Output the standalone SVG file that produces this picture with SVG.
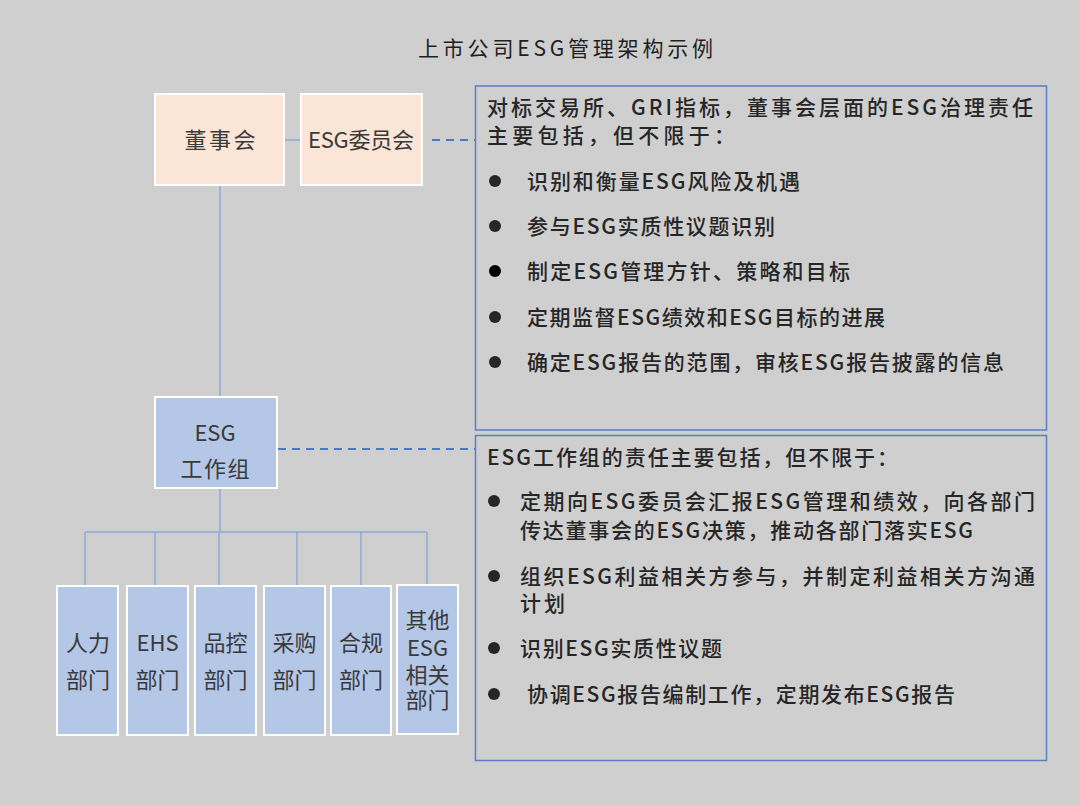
<svg xmlns="http://www.w3.org/2000/svg" width="1080" height="805" viewBox="0 0 1080 805">
<style>
.t{font-family:"Noto Sans CJK SC","Liberation Sans",sans-serif;}
.node{stroke:#ffffff;stroke-width:2;}
.peach{fill:#fbe5d6;}
.blue{fill:#b4c7e7;}
.nt{font-size:22px;fill:#3a3a3a;text-anchor:middle;}
.bt{font-size:21px;fill:#262626;font-weight:500;}
.panel{fill:none;stroke:#5a7ec2;stroke-width:1.5;}
.solid{stroke:#8eaadb;stroke-width:1.5;fill:none;}
.dash{stroke:#4a78c8;stroke-width:2;stroke-dasharray:8 6;fill:none;}
.dot{fill:#262626;}
</style>
<rect width="1080" height="805" fill="#d0cfd0"/>
<text class="t" x="418" y="56" font-size="21" fill="#1f1f1f" textLength="295" lengthAdjust="spacing">上市公司ESG管理架构示例</text>

<g id="connectors">
<line class="solid" x1="284" y1="140" x2="301" y2="140"/>
<line class="solid" x1="220" y1="185" x2="220" y2="397"/>
<line class="solid" x1="220" y1="488" x2="220" y2="532"/>
<line class="solid" x1="85" y1="532" x2="427" y2="532"/>
<line class="solid" x1="85" y1="532" x2="85" y2="586"/>
<line class="solid" x1="155" y1="532" x2="155" y2="586"/>
<line class="solid" x1="219" y1="532" x2="219" y2="586"/>
<line class="solid" x1="297" y1="532" x2="297" y2="586"/>
<line class="solid" x1="361" y1="532" x2="361" y2="591"/>
<line class="solid" x1="427" y1="532" x2="427" y2="591"/>
<line class="dash" x1="432" y1="140" x2="475" y2="140"/>
<line class="dash" x1="278" y1="449" x2="475" y2="449"/>
</g>

<g id="board">
<rect class="node peach" x="155" y="94" width="129" height="91"/>
<text class="t nt" x="220" y="148" textLength="71" lengthAdjust="spacing">董事会</text>
</g>
<g id="committee">
<rect class="node peach" x="301" y="94" width="121" height="91"/>
<text class="t nt" x="361" y="148" textLength="106" lengthAdjust="spacing">ESG委员会</text>
</g>
<g id="workgroup">
<rect class="node blue" x="155" y="397" width="122" height="91"/>
<text class="t nt" x="215" y="441" font-size="20">ESG</text>
<text class="t nt" x="215" y="477" textLength="69" lengthAdjust="spacing">工作组</text>
</g>

<g id="dept-hr">
<rect class="node blue" x="57" y="586" width="61" height="149"/>
<text class="t nt" x="88" y="651">人力</text>
<text class="t nt" x="88" y="688">部门</text>
</g>
<g id="dept-ehs">
<rect class="node blue" x="127" y="586" width="61" height="149"/>
<text class="t nt" x="157.5" y="651" font-size="20">EHS</text>
<text class="t nt" x="157.5" y="688">部门</text>
</g>
<g id="dept-qc">
<rect class="node blue" x="195" y="586" width="61" height="149"/>
<text class="t nt" x="225.5" y="651">品控</text>
<text class="t nt" x="225.5" y="688">部门</text>
</g>
<g id="dept-purchase">
<rect class="node blue" x="264" y="586" width="61" height="149"/>
<text class="t nt" x="294.5" y="651">采购</text>
<text class="t nt" x="294.5" y="688">部门</text>
</g>
<g id="dept-compliance">
<rect class="node blue" x="331" y="586" width="60" height="149"/>
<text class="t nt" x="361" y="651">合规</text>
<text class="t nt" x="361" y="688">部门</text>
</g>
<g id="dept-other">
<rect class="node blue" x="397" y="585" width="61" height="149"/>
<text class="t nt" x="427.5" y="628">其他</text>
<text class="t nt" x="427.5" y="656" font-size="20">ESG</text>
<text class="t nt" x="427.5" y="683">相关</text>
<text class="t nt" x="427.5" y="708">部门</text>
</g>

<g id="panel-board">
<rect class="panel" x="475.5" y="86" width="571" height="344"/>
<text class="t bt" x="487" y="115" textLength="546" lengthAdjust="spacing">对标交易所、GRI指标，董事会层面的ESG治理责任</text>
<text class="t bt" x="487" y="143" textLength="248" lengthAdjust="spacing">主要包括，但不限于：</text>
<circle class="dot" cx="495" cy="181" r="6"/>
<text class="t bt" x="527" y="189" textLength="273" lengthAdjust="spacing">识别和衡量ESG风险及机遇</text>
<circle class="dot" cx="495" cy="226" r="6"/>
<text class="t bt" x="527" y="234" textLength="248" lengthAdjust="spacing">参与ESG实质性议题识别</text>
<circle cx="495" cy="271" r="6" fill="#000"/>
<text class="t bt" x="527" y="279" fill="#000" font-weight="bold" textLength="323" lengthAdjust="spacing">制定ESG管理方针、策略和目标</text>
<circle class="dot" cx="495" cy="317" r="6"/>
<text class="t bt" x="527" y="325" textLength="358" lengthAdjust="spacing">定期监督ESG绩效和ESG目标的进展</text>
<circle class="dot" cx="495" cy="362" r="6"/>
<text class="t bt" x="527" y="370" textLength="477" lengthAdjust="spacing">确定ESG报告的范围，审核ESG报告披露的信息</text>
</g>

<g id="panel-workgroup">
<rect class="panel" x="475.5" y="435.5" width="571" height="325"/>
<text class="t bt" x="487" y="465" textLength="411" lengthAdjust="spacing">ESG工作组的责任主要包括，但不限于：</text>
<circle class="dot" cx="494" cy="501" r="6"/>
<text class="t bt" x="520" y="509" textLength="515" lengthAdjust="spacing">定期向ESG委员会汇报ESG管理和绩效，向各部门</text>
<text class="t bt" x="520" y="538" textLength="453" lengthAdjust="spacing">传达董事会的ESG决策，推动各部门落实ESG</text>
<circle class="dot" cx="494" cy="576" r="6"/>
<text class="t bt" x="520" y="584" textLength="515" lengthAdjust="spacing">组织ESG利益相关方参与，并制定利益相关方沟通</text>
<text class="t bt" x="520" y="611" textLength="45" lengthAdjust="spacing">计划</text>
<circle class="dot" cx="494" cy="648" r="6"/>
<text class="t bt" x="520" y="656" textLength="202" lengthAdjust="spacing">识别ESG实质性议题</text>
<circle class="dot" cx="494" cy="694" r="6"/>
<text class="t bt" x="527" y="702" textLength="428" lengthAdjust="spacing">协调ESG报告编制工作，定期发布ESG报告</text>
</g>
</svg>
